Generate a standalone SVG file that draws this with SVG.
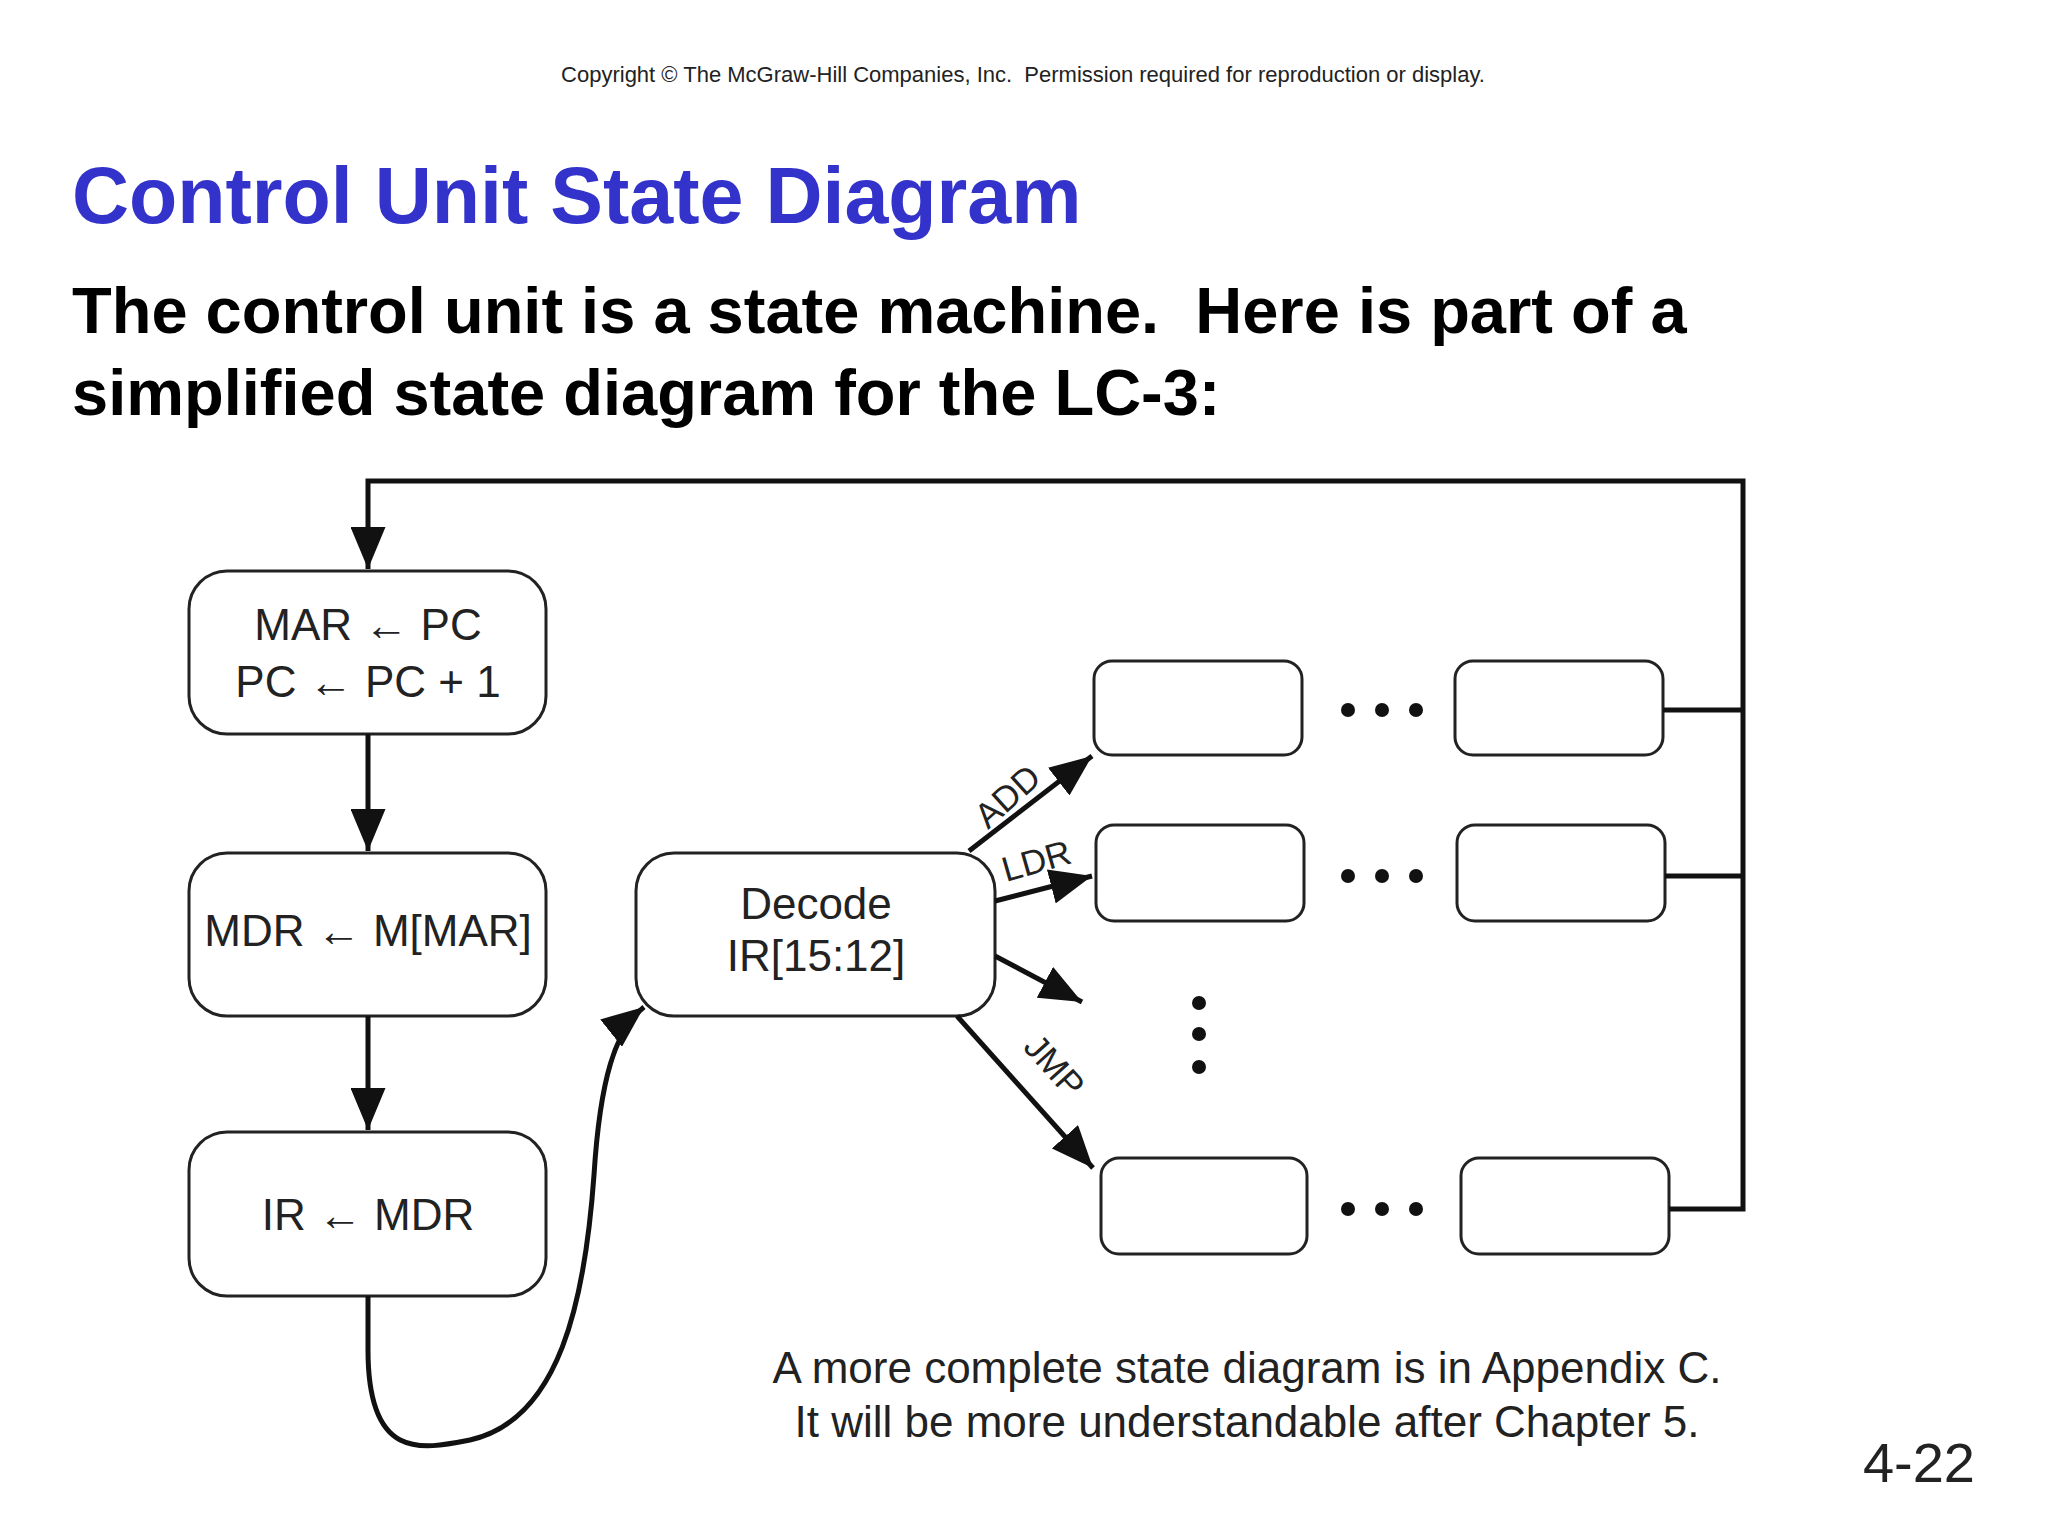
<svg xmlns="http://www.w3.org/2000/svg" width="2048" height="1536" viewBox="0 0 2048 1536">
<defs>
<style>
.b{fill:#fff;stroke:#222;stroke-width:3}
.t{font-family:"Liberation Sans",Arial,sans-serif;fill:#222}
.l{fill:none;stroke:#111;stroke-width:5}
.d{fill:#111}
</style>
<marker id="a" viewBox="0 0 12 10" refX="12" refY="5" markerWidth="8.4" markerHeight="7" orient="auto" markerUnits="strokeWidth"><path d="M0,0L12,5L0,10z" fill="#111"/></marker>
</defs>
<rect width="2048" height="1536" fill="#fff"/>
<text x="1023" y="82" text-anchor="middle" class="t" font-size="22" fill="#000" xml:space="preserve">Copyright © The McGraw-Hill Companies, Inc.  Permission required for reproduction or display.</text>
<text x="72" y="223" font-family="Liberation Sans,Arial,sans-serif" font-weight="bold" font-size="79" fill="#3333cc">Control Unit State Diagram</text>
<text x="72" y="333" font-family="Liberation Sans,Arial,sans-serif" font-weight="bold" font-size="65" fill="#000" xml:space="preserve">The control unit is a state machine.  Here is part of a</text>
<text x="72" y="415" font-family="Liberation Sans,Arial,sans-serif" font-weight="bold" font-size="65" fill="#000">simplified state diagram for the LC-3:</text>

<g id="n1"><rect class="b" x="189" y="571" width="357" height="163" rx="38"/><text class="t" x="368" y="640" font-size="44" text-anchor="middle">MAR ← PC</text><text class="t" x="368" y="697" font-size="44" text-anchor="middle">PC ← PC + 1</text></g>
<g id="n2"><rect class="b" x="189" y="853" width="357" height="163" rx="38"/><text class="t" x="368" y="946" font-size="44" text-anchor="middle">MDR ← M[MAR]</text></g>
<g id="n3"><rect class="b" x="189" y="1132" width="357" height="164" rx="38"/><text class="t" x="368" y="1230" font-size="44" text-anchor="middle">IR ← MDR</text></g>
<g id="n4"><rect class="b" x="636" y="853" width="359" height="163" rx="38"/><text class="t" x="816" y="919" font-size="44" text-anchor="middle">Decode</text><text class="t" x="816" y="971" font-size="44" text-anchor="middle">IR[15:12]</text></g>
<g id="r1a"><rect class="b" x="1094" y="661" width="208" height="94" rx="18"/></g>
<g id="r1b"><rect class="b" x="1455" y="661" width="208" height="94" rx="18"/></g>
<g id="r2a"><rect class="b" x="1096" y="825" width="208" height="96" rx="18"/></g>
<g id="r2b"><rect class="b" x="1457" y="825" width="208" height="96" rx="18"/></g>
<g id="r3a"><rect class="b" x="1101" y="1158" width="206" height="96" rx="18"/></g>
<g id="r3b"><rect class="b" x="1461" y="1158" width="208" height="96" rx="18"/></g>
<g id="dots">
<circle class="d" cx="1348" cy="710" r="7"/><circle class="d" cx="1382" cy="710" r="7"/><circle class="d" cx="1416" cy="710" r="7"/>
<circle class="d" cx="1348" cy="876" r="7"/><circle class="d" cx="1382" cy="876" r="7"/><circle class="d" cx="1416" cy="876" r="7"/>
<circle class="d" cx="1348" cy="1209" r="7"/><circle class="d" cx="1382" cy="1209" r="7"/><circle class="d" cx="1416" cy="1209" r="7"/>
<circle class="d" cx="1199" cy="1003" r="7"/><circle class="d" cx="1199" cy="1034" r="7"/><circle class="d" cx="1199" cy="1067" r="7"/>
</g>
<g id="connectors">
<path class="l" d="M1663 710H1743M1665 876H1743M1669 1209H1743V481H368V569" marker-end="url(#a)"/>
<path class="l" d="M368 734V851" marker-end="url(#a)"/>
<path class="l" d="M368 1016V1130" marker-end="url(#a)"/>
<path class="l" d="M368 1296L368 1350C368 1460 420 1450 470 1440C560 1420 585 1300 594 1175C600 1080 615 1030 644 1007" marker-end="url(#a)"/>
<path class="l" d="M969 851L1092 756" marker-end="url(#a)"/>
<path class="l" d="M995 901L1092 876" marker-end="url(#a)"/>
<path class="l" d="M995 956L1082 1002" marker-end="url(#a)"/>
<path class="l" d="M957 1016L1093 1168" marker-end="url(#a)"/>
<text class="t" font-size="35" transform="translate(988,830) rotate(-42)">ADD</text>
<text class="t" font-size="35" transform="translate(1006,882) rotate(-16)">LDR</text>
<text class="t" font-size="35" transform="translate(1022,1048) rotate(48)">JMP</text>
</g>
<text class="t" x="1247" y="1383" font-size="44" text-anchor="middle" fill="#000">A more complete state diagram is in Appendix C.</text>
<text class="t" x="1247" y="1437" font-size="44" text-anchor="middle" fill="#000">It will be more understandable after Chapter 5.</text>
<text class="t" x="1975" y="1482" font-size="56" text-anchor="end" fill="#000">4-22</text>
</svg>
